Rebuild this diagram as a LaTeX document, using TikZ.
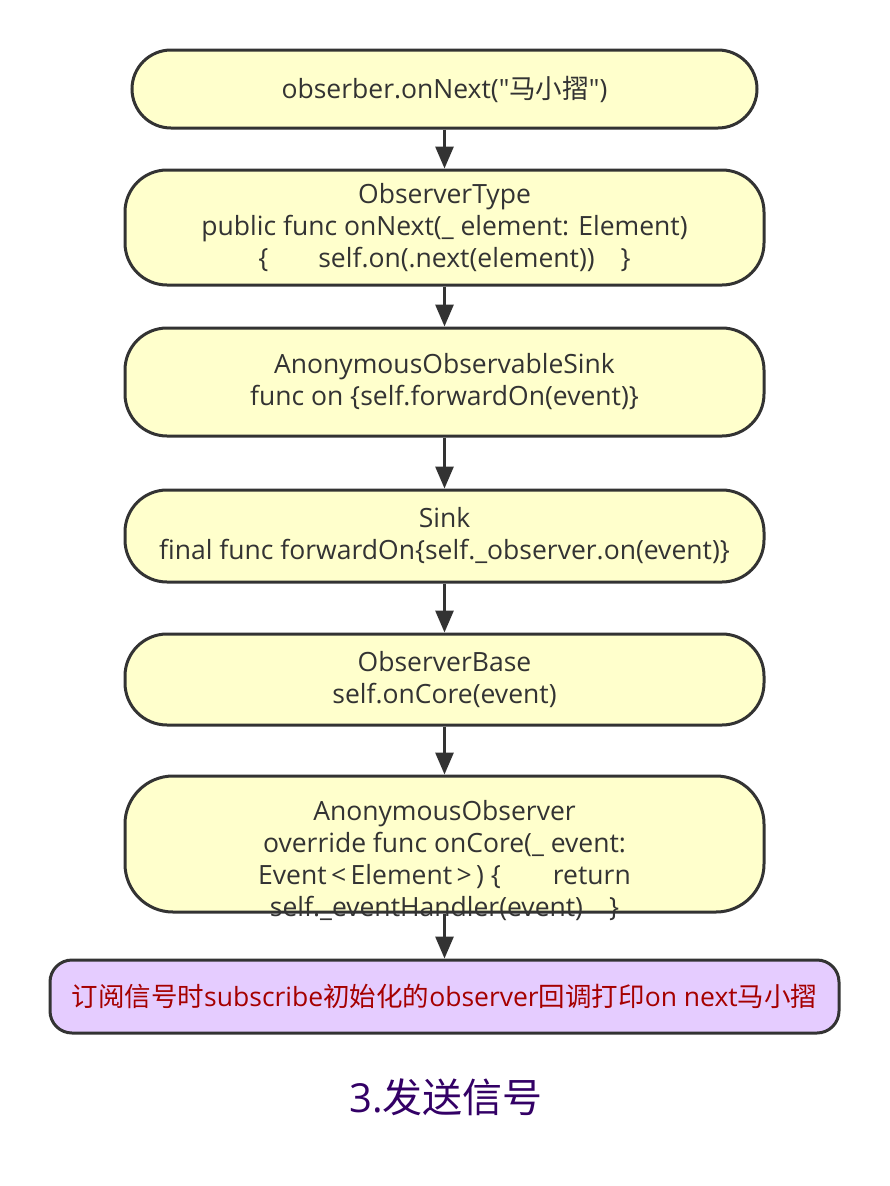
\documentclass[tikz,border=0pt]{standalone}
\usepackage{fontspec}
\setmainfont{Open Sans}[Ligatures=TeXOff]
\newfontfamily\cjk{Noto Sans CJK SC}[Ligatures=TeXOff]
\usetikzlibrary{arrows.meta}
\definecolor{boxyellow}{HTML}{FFFFCC}
\definecolor{boxpurple}{HTML}{E5CCFF}
\definecolor{lineg}{HTML}{333333}
\definecolor{textred}{HTML}{A50000}
\definecolor{titlepurple}{HTML}{330066}
\tikzset{
  stepbox/.style={draw=lineg,line width=3pt,fill=boxyellow,rounded corners=42pt,
    minimum width=639pt,align=center,text=lineg,font=\fontsize{26.5}{32}\selectfont},
  endbox/.style={draw=lineg,line width=3pt,fill=boxpurple,rounded corners=22pt,
    minimum width=789pt,minimum height=73pt,text=textred,font=\fontsize{26.5}{30}\selectfont},
  flow/.style={draw=lineg,line width=3pt,-{Triangle[length=22pt,width=18pt]}}
}
\begin{document}
\begin{tikzpicture}[x=1pt,y=-1pt]
  \useasboundingbox[fill=white] (0,0) rectangle (890,1186);
  % call chain when a signal is sent
  \node[stepbox,minimum width=625pt,minimum height=78pt,rounded corners=39pt] (next) at (444.5,89) {obserber.onNext("{\cjk 马小摺}")};
  \node[stepbox,minimum height=115pt] (otype) at (444.5,227.5) {ObserverType\\public func onNext(\_ element: Element)\\\{\hspace{50pt}self.on(.next(element))\hspace{26pt}\}};
  \node[stepbox,minimum height=108pt] (asink) at (444.5,382) {AnonymousObservableSink\\func on \{self.forwardOn(event)\}};
  \node[stepbox,minimum height=92pt] (sink) at (444.5,536) {Sink\\final func forwardOn\{self.\_observer.on(event)\}};
  \node[stepbox,minimum height=91pt] (obase) at (444.5,679.5) {ObserverBase\\self.onCore(event)};
  \node[stepbox,minimum height=136pt,rounded corners=48pt] (anon) at (444.5,844) {};
  \node[align=center,text=lineg,font=\fontsize{26.5}{32}\selectfont] (anontext) at (444.5,861) {AnonymousObserver\\override func onCore(\_ event:\\Event\,<\,Element\,>\,) \{\hspace{52pt}return\\self.\_eventHandler(event)\hspace{26pt}\}};
  \node[endbox] (print) at (444.5,996.5) {{\cjk 订阅信号时}subscribe{\cjk 初始化的}observer{\cjk 回调打印}on next{\cjk 马小摺}};
  \node[text=titlepurple,font=\fontsize{40}{46}\selectfont] (title) at (446,1097) {3.{\cjk 发送信号}};
  \draw[flow] (next) -- (otype);
  \draw[flow] (otype) -- (asink);
  \draw[flow] (asink) -- (sink);
  \draw[flow] (sink) -- (obase);
  \draw[flow] (obase) -- (anon);
  \draw[flow] (anon) -- (print);
\end{tikzpicture}
\end{document}
